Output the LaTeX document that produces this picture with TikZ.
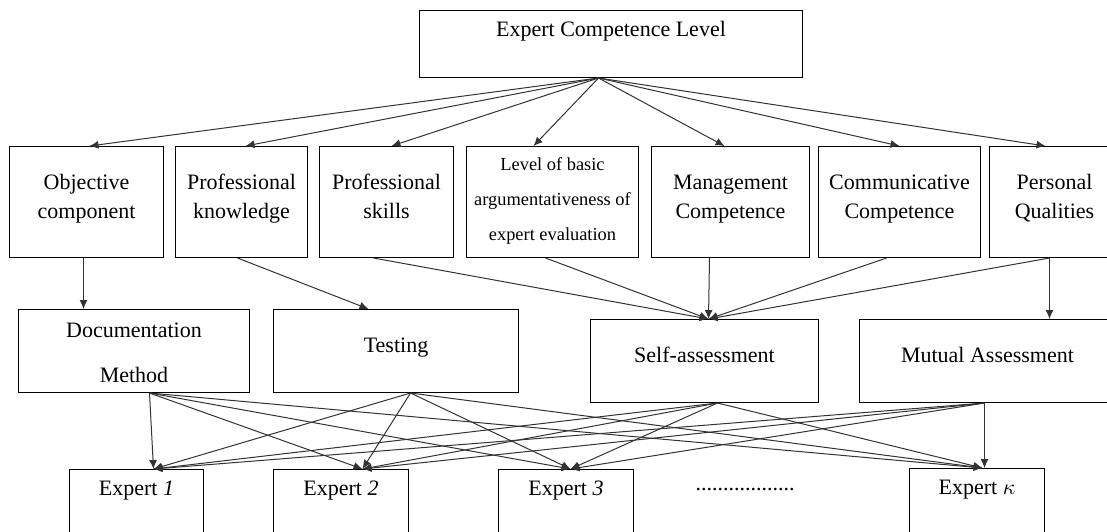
\documentclass[tikz,border=0pt]{standalone}
\usepackage{fontspec}
\setmainfont{Liberation Serif}
\usetikzlibrary{arrows.meta}

\begin{document}
\begin{tikzpicture}[
		x = 0.5pt,
		y = -0.5pt,
		box/.style = {
			draw,
			rectangle,
			line width = 0.5pt,
			anchor = north west,
			inner sep = 0pt,
			align = center,
			font = \fontsize{11}{14.5}\selectfont,
		},
		link/.style = {
			draw = black!80,
			line width = 0.5pt,
			-{Latex[length = 4.5pt, width = 4pt]},
		}
	]
	\useasboundingbox (0,0) rectangle (1107,531);

	\node [box, minimum width = 191.5pt, text height = 13pt, text depth = 20.5pt] (topLevel) at (419,10) {Expert Competence Level};

	\node [box, minimum width = 77pt, text height = 36pt, text depth = 19.5pt] (objComp) at (9,146) {Objective\\component};
	\node [box, minimum width = 66pt, text height = 36pt, text depth = 19.5pt] (profKnow) at (175,146) {Professional\\knowledge};
	\node [box, minimum width = 67pt, text height = 36pt, text depth = 19.5pt] (profSkill) at (319,146) {Professional\\skills};
	\node [box, minimum width = 86pt, text height = 47pt, text depth = 8.5pt, font = \fontsize{9.2}{17.5}\selectfont] (levelBasic) at (466,146) {Level of basic\\argumentativeness of\\expert evaluation};
	\node [box, minimum width = 79pt, text height = 36pt, text depth = 19.5pt] (mgmtComp) at (651,146) {Management\\Competence};
	\node [box, minimum width = 81pt, text height = 36pt, text depth = 19.5pt] (commComp) at (818,146) {Communicative\\Competence};
	\node [box, minimum width = 65pt, text height = 36pt, text depth = 19.5pt] (persQual) at (989,146) {Personal\\Qualities};

	\node [box, minimum width = 115.5pt, text height = 36.5pt, text depth = 5pt, font = \fontsize{11}{22.5}\selectfont] (docMethod) at (18,309) {Documentation\\Method};
	\node [box, minimum width = 122.5pt, text height = 21.5pt, text depth = 20pt] (testing) at (273,309) {Testing};
	\node [box, minimum width = 114pt, text height = 21.5pt, text depth = 20pt] (selfAss) at (590,319) {Self-assessment};
	\node [box, minimum width = 128pt, text height = 21.5pt, text depth = 20pt] (mutualAss) at (859,319) {Mutual Assessment};

	\node [box, minimum width = 67pt, text height = 13pt, text depth = 32.5pt] (expOne) at (69,469) {Expert \textit{1}};
	\node [box, minimum width = 67.5pt, text height = 13pt, text depth = 32.5pt] (expTwo) at (273,469) {Expert \textit{2}};
	\node [box, minimum width = 67.5pt, text height = 13pt, text depth = 32.5pt] (expThree) at (498,469) {Expert \textit{3}};
	\node [box, minimum width = 67.5pt, text height = 13pt, text depth = 32.5pt] (expK) at (909,468) {Expert $\kappa$};
	\node [anchor = base, font = \fontsize{11}{13.5}\selectfont] (dotsRow) at (745,490) {..................};

	% level -> components
	\draw [link] ([xshift = -6.25pt]topLevel.south) to ([xshift = 1.5pt]objComp.north);
	\draw [link] ([xshift = -6.25pt]topLevel.south) to ([xshift = 2pt]profKnow.north);
	\draw [link] ([xshift = -6.25pt]topLevel.south) to ([xshift = 2.5pt]profSkill.north);
	\draw [link] ([xshift = -6.25pt]topLevel.south) to ([xshift = -9.5pt]levelBasic.north);
	\draw [link] ([xshift = -6.25pt]topLevel.south) to ([xshift = -3pt]mgmtComp.north);
	\draw [link] ([xshift = -6.25pt]topLevel.south) to (commComp.north);
	\draw [link] ([xshift = -6.25pt]topLevel.south) to ([xshift = -4.5pt]persQual.north);

	% components -> methods
	\draw [link] ([xshift = -1.5pt]objComp.south) to ([xshift = -1.5pt]objComp.south |- docMethod.north);
	\draw [link] ([xshift = -2pt]profKnow.south) to ([xshift = -13.75pt]testing.north);
	\draw [link] ([xshift = -6.5pt]profSkill.south) to ([xshift = 2pt]selfAss.north);
	\draw [link] ([xshift = -3.5pt]levelBasic.south) to ([xshift = 2pt]selfAss.north);
	\draw [link] ([xshift = -10.5pt]mgmtComp.south) to ([xshift = 2pt]selfAss.north);
	\draw [link] ([xshift = -6.5pt]commComp.south) to ([xshift = 2pt]selfAss.north);
	\draw [link] ([xshift = -2.5pt]persQual.south) to ([xshift = 2pt]selfAss.north);
	\draw [link] ([xshift = -2.5pt]persQual.south) to ([xshift = -2.5pt]persQual.south |- mutualAss.north);

	% methods -> experts
	\draw [link] ([xshift = 7.75pt]docMethod.south) to ([xshift = 8.5pt]expOne.north);
	\draw [link] ([xshift = 7.75pt]docMethod.south) to ([xshift = 10.75pt]expTwo.north);
	\draw [link] ([xshift = 7.75pt]docMethod.south) to ([xshift = 2.25pt]expThree.north);
	\draw [link] ([xshift = 7.75pt]docMethod.south) to ([xshift = 2.75pt]expK.north);

	\draw [link] ([xshift = 7.25pt]testing.south) to ([xshift = 8.5pt]expOne.north);
	\draw [link] ([xshift = 7.25pt]testing.south) to ([xshift = 10.75pt]expTwo.north);
	\draw [link] ([xshift = 7.25pt]testing.south) to ([xshift = 2.25pt]expThree.north);
	\draw [link] ([xshift = 7.25pt]testing.south) to ([xshift = 2.75pt]expK.north);

	\draw [link] ([xshift = 6.5pt]selfAss.south) to ([xshift = 8.5pt]expOne.north);
	\draw [link] ([xshift = 6.5pt]selfAss.south) to ([xshift = 10.75pt]expTwo.north);
	\draw [link] ([xshift = 6.5pt]selfAss.south) to ([xshift = 2.25pt]expThree.north);
	\draw [link] ([xshift = 6.5pt]selfAss.south) to ([xshift = 2.75pt]expK.north);

	\draw [link] ([xshift = -1.5pt]mutualAss.south) to ([xshift = 8.5pt]expOne.north);
	\draw [link] ([xshift = -1.5pt]mutualAss.south) to ([xshift = 10.75pt]expTwo.north);
	\draw [link] ([xshift = -1.5pt]mutualAss.south) to ([xshift = 2.25pt]expThree.north);
	\draw [link] ([xshift = -1.5pt]mutualAss.south) to ([xshift = -1.5pt]mutualAss.south |- expK.north);
\end{tikzpicture}
\end{document}
